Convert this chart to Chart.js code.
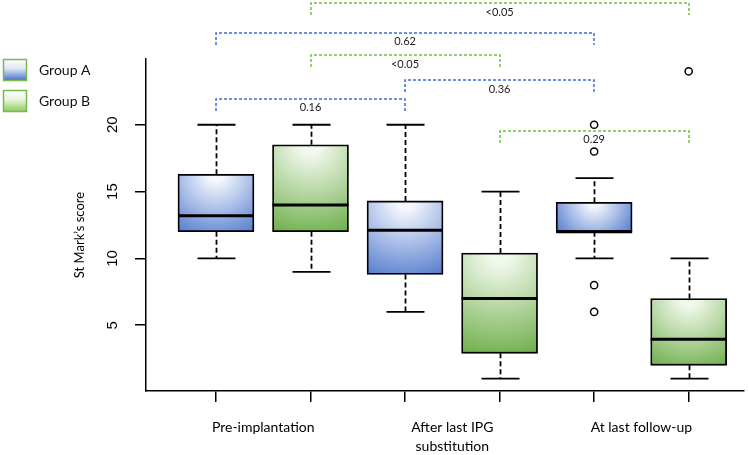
<!DOCTYPE html>
<html>
<head>
<meta charset="utf-8">
<script src="https://cdn.jsdelivr.net/npm/chart.js@4.4.1/dist/chart.umd.min.js"></script>
<style>
  html, body { margin: 0; padding: 0; background: #fff; overflow: hidden; }
  #wrap { width: 749px; height: 455px; }
</style>
</head>
<body>
<div id="wrap"><canvas id="chart"></canvas></div>
<script>
// ── data ──
const timepoints = [["Pre-implantation"], ["After last IPG", "substitution"], ["At last follow-up"]];
const groupNames = ["Group A", "Group B"];
const boxPosA = [1, 3, 5];
const boxPosB = [2, 4, 6];
// five numbers for each box
const minA = [10, 6, 10];
const q1A = [12, 8.8, 12];
const medA = [13.2, 12.1, 12];
const q3A = [16.3, 14.3, 14.2];
const maxA = [20, 20, 16];
const minB = [9, 1, 1];
const q1B = [12, 2.9, 2];
const medB = [14, 7, 3.95];
const q3B = [18.5, 10.4, 7];
const maxB = [20, 15, 10];
const outliersA = [[], [], [20, 18, 8, 6]];
const outliersB = [[], [], [24]];
const yTicks = [5, 10, 15, 20];
const xTicks = [1, 2, 3, 4, 5, 6];
// p-value brackets between boxes
const bracketFrom = [2, 1, 2, 3, 1, 4];
const bracketTo = [6, 5, 4, 5, 3, 6];
const bracketLevel = [29.1, 26.9, 25.2, 23.35, 21.95, 19.55];
const bracketGroup = [1, 0, 1, 0, 0, 1];
const bracketLabel = ["<0.05", "0.62", "<0.05", "0.36", "0.16", "0.29"];

const DARK = ["#4a74cb", "#66aa40"];
const LIGHT = ["#f4f7fd", "#f1f8ec"];
const BRACKET = ["#3a6fd8", "#6cc23e"];

// radial fill, white at the top centre of each box
function boxFill(g) {
  return (c) => {
    const chart = c.chart;
    const xs = chart.scales.x, ys = chart.scales.y;
    if (!xs || !ys || !c.raw || c.type !== "data") return DARK[g];
    const cx = xs.getPixelForValue(c.raw.x);
    const top = ys.getPixelForValue(c.raw.y[1]);
    const bot = ys.getPixelForValue(c.raw.y[0]);
    if (![cx, top, bot].every(Number.isFinite)) return DARK[g];
    const h = Math.max(bot - top, 1);
    const r = Math.hypot(38, h) * 1.05;
    const grad = chart.ctx.createRadialGradient(cx, top, 0, cx, top, r);
    grad.addColorStop(0, LIGHT[g]);
    grad.addColorStop(0.1, LIGHT[g]);
    grad.addColorStop(1, DARK[g]);
    return grad;
  };
}

function boxData(pos, q1, q3) {
  return pos.map((p, i) => ({ x: p, y: [q1[i], q3[i]] }));
}
function outlierData(pos, outs) {
  const pts = [];
  pos.forEach((p, i) => outs[i].forEach((v) => pts.push({ x: p, y: v })));
  return pts;
}

// whiskers, staples, medians, brackets, texts
const boxExtras = {
  id: "boxExtras",
  beforeDatasetsDraw(chart) {
    const { ctx, scales: { x, y } } = chart;
    const groups = [
      [boxPosA, minA, q1A, q3A, maxA],
      [boxPosB, minB, q1B, q3B, maxB],
    ];
    ctx.save();
    ctx.strokeStyle = "#000";
    ctx.lineWidth = 1.8;
    groups.forEach(([pos, mn, q1, q3, mx], g) => {
      const bars = chart.getDatasetMeta(g).data;
      pos.forEach((p, i) => {
        const cx = Math.round(x.getPixelForValue(p)) + 0.5;
        const half = bars[i] ? bars[i].width / 4 : 19;
        ctx.setLineDash([5, 3]);
        ctx.beginPath();
        ctx.moveTo(cx, y.getPixelForValue(q3[i]));
        ctx.lineTo(cx, y.getPixelForValue(mx[i]));
        ctx.moveTo(cx, y.getPixelForValue(q1[i]));
        ctx.lineTo(cx, y.getPixelForValue(mn[i]));
        ctx.stroke();
        ctx.setLineDash([]);
        ctx.beginPath();
        [mx[i], mn[i]].forEach((v) => {
          const py = y.getPixelForValue(v);
          ctx.moveTo(cx - half, py);
          ctx.lineTo(cx + half, py);
        });
        ctx.stroke();
      });
    });
    ctx.restore();
  },
  afterDatasetsDraw(chart) {
    const { ctx, scales: { x, y } } = chart;
    const meds = [[boxPosA, medA], [boxPosB, medB]];
    ctx.save();
    ctx.strokeStyle = "#000";
    ctx.lineWidth = 3;
    meds.forEach(([pos, med], g) => {
      const bars = chart.getDatasetMeta(g).data;
      pos.forEach((p, i) => {
        const cx = x.getPixelForValue(p);
        const half = bars[i] ? bars[i].width / 2 : 38;
        const py = y.getPixelForValue(med[i]);
        ctx.beginPath();
        ctx.moveTo(cx - half, py);
        ctx.lineTo(cx + half, py);
        ctx.stroke();
      });
    });
    ctx.restore();
  },
  afterDraw(chart) {
    const { ctx, scales: { x, y }, chartArea } = chart;
    ctx.save();

    // brackets
    ctx.lineWidth = 1.5;
    ctx.setLineDash([3, 2]);
    bracketFrom.forEach((from, i) => {
      const x1 = Math.round(x.getPixelForValue(from));
      const x2 = Math.round(x.getPixelForValue(bracketTo[i]));
      const py = Math.round(y.getPixelForValue(bracketLevel[i]));
      ctx.strokeStyle = BRACKET[bracketGroup[i]];
      ctx.beginPath();
      ctx.moveTo(x1, py + 12);
      ctx.lineTo(x1, py);
      ctx.lineTo(x2, py);
      ctx.lineTo(x2, py + 12);
      ctx.stroke();
    });
    ctx.setLineDash([]);
    ctx.fillStyle = "#1a1a1a";
    ctx.font = "11px Lato";
    ctx.textAlign = "center";
    ctx.textBaseline = "middle";
    bracketFrom.forEach((from, i) => {
      const mid = x.getPixelForValue((from + bracketTo[i]) / 2);
      ctx.fillText(bracketLabel[i], mid, y.getPixelForValue(bracketLevel[i]) + 9);
    });

    // y tick labels, rotated like R
    ctx.font = "15px 'Liberation Sans'";
    ctx.fillStyle = "#000";
    yTicks.forEach((v) => {
      ctx.save();
      ctx.translate(113, y.getPixelForValue(v));
      ctx.rotate(-Math.PI / 2);
      ctx.fillText(String(v), 0, 0);
      ctx.restore();
    });

    // y title
    ctx.font = "13px Lato";
    ctx.save();
    ctx.translate(80, (chartArea.top + chartArea.bottom) / 2 + 10);
    ctx.rotate(-Math.PI / 2);
    ctx.fillText("St Mark\u2019s score", 0, 0);
    ctx.restore();

    // x group labels
    ctx.font = "14px Lato";
    timepoints.forEach((lines, i) => {
      const cx = x.getPixelForValue((boxPosA[i] + boxPosB[i]) / 2);
      lines.forEach((t, k) => ctx.fillText(t, cx, 427 + k * 19));
    });

    // legend
    ctx.textAlign = "left";
    groupNames.forEach((name, g) => {
      const top = 59 + g * 31;
      const grad = ctx.createLinearGradient(0, top, 0, top + 21);
      grad.addColorStop(0, "#ffffff");
      grad.addColorStop(0.45, g === 0 ? "#dfe7f6" : "#eaf5e2");
      grad.addColorStop(1, g === 0 ? "#4c76cc" : "#8fcf62");
      ctx.fillStyle = grad;
      ctx.fillRect(3.5, top + 0.5, 23, 21);
      ctx.strokeStyle = "#79b94f";
      ctx.lineWidth = 1.5;
      ctx.strokeRect(3.5, top + 0.5, 23, 21);
      ctx.fillStyle = "#111";
      ctx.font = "14px Lato";
      ctx.fillText(name, 39, top + 11);
    });
    ctx.restore();
  },
};

const axisGrid = {
  drawOnChartArea: false,
  drawTicks: true,
  tickLength: 11,
  color: "#000",
  lineWidth: 1.5,
  offset: false,
};

new Chart(document.getElementById("chart"), {
  type: "bar",
  data: {
    datasets: [
      {
        label: groupNames[0],
        data: boxData(boxPosA, q1A, q3A),
        backgroundColor: boxFill(0),
        borderColor: "#000",
        borderWidth: 1.8,
        borderSkipped: false,
        barThickness: 76,
        grouped: false,
      },
      {
        label: groupNames[1],
        data: boxData(boxPosB, q1B, q3B),
        backgroundColor: boxFill(1),
        borderColor: "#000",
        borderWidth: 1.8,
        borderSkipped: false,
        barThickness: 76,
        grouped: false,
      },
      {
        type: "scatter",
        label: "outliers A",
        data: outlierData(boxPosA, outliersA),
        pointRadius: 3.6,
        borderWidth: 1.5,
        borderColor: "#000",
        backgroundColor: "#fff",
      },
      {
        type: "scatter",
        label: "outliers B",
        data: outlierData(boxPosB, outliersB),
        pointRadius: 3.6,
        borderWidth: 1.5,
        borderColor: "#000",
        backgroundColor: "#fff",
      },
    ],
  },
  options: {
    responsive: true,
    maintainAspectRatio: false,
    animation: false,
    layout: { padding: { left: 135, top: 59, right: 0, bottom: 53 } },
    plugins: {
      legend: { display: false },
      tooltip: { enabled: false },
    },
    scales: {
      x: {
        type: "linear",
        offset: false,
        min: 0.26,
        max: 6.58,
        afterBuildTicks: (s) => { s.ticks = xTicks.map((v) => ({ value: v })); },
        ticks: { display: false },
        grid: axisGrid,
        border: { color: "#000", width: 1.5 },
      },
      y: {
        min: 0.08,
        max: 24.92,
        afterBuildTicks: (s) => { s.ticks = yTicks.map((v) => ({ value: v })); },
        ticks: { display: false },
        grid: axisGrid,
        border: { color: "#000", width: 1.5 },
      },
    },
  },
  plugins: [boxExtras],
});
</script>
</body>
</html>
